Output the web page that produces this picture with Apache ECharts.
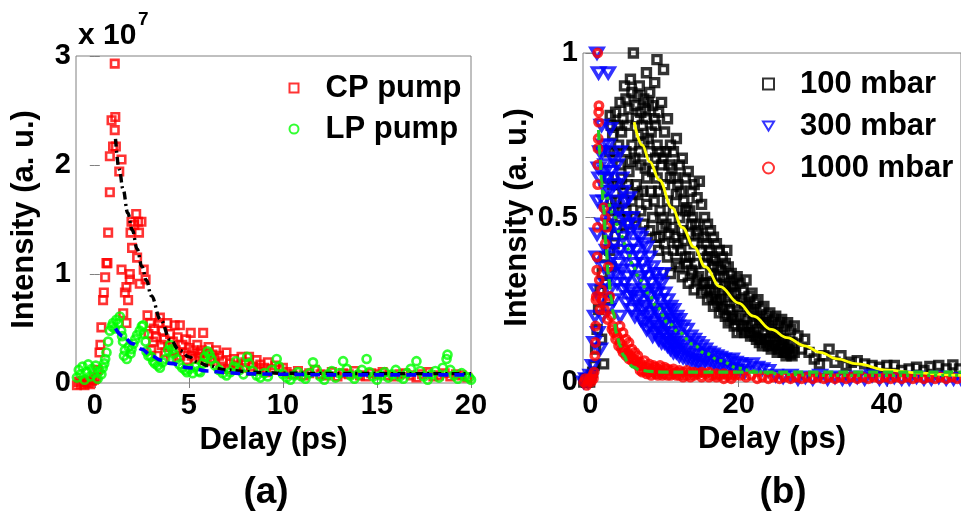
<!DOCTYPE html>
<html><head><meta charset="utf-8">
<script src="https://cdn.jsdelivr.net/npm/echarts@6/dist/echarts.min.js"></script>
<style>html,body{margin:0;padding:0;background:#fff}#c{width:961px;height:512px}</style>
</head><body><div id="c"></div><script>
// ---------------- Panel (a): intensity in units of 1e7 a.u. ----------------
const aTicksX = [0, 5, 10, 15, 20];
const aTicksY = [0, 1, 2, 3];
const cpPump = [
[-0.95,-0.02],[-0.85,0.01],[-0.75,-0.01],[-0.65,0.02],[-0.55,-0.02],[-0.45,0.01],[-0.35,0.0],[-0.25,-0.01],[-0.15,0.02],[-0.05,0.03],
[0.05,0.05],[0.15,0.12],[0.25,0.28],[0.30,0.35],[0.35,0.51],[0.44,0.76],[0.48,0.83],[0.55,0.97],[0.62,1.10],[0.67,1.10],[0.71,1.38],
[0.80,1.75],[0.80,2.08],[0.89,2.41],[0.97,2.17],[1.06,2.93],[1.06,2.32],[1.09,2.44],[1.12,2.17],[1.30,1.94],[1.42,2.05],[1.42,1.04],
[1.51,0.64],[1.60,0.83],[1.68,0.88],[1.68,0.55],[1.77,0.76],[1.86,0.95],[1.86,1.00],[1.90,1.38],[1.95,1.48],[1.98,1.24],[2.10,1.45],
[2.20,1.55],[2.25,1.15],[2.30,1.48],[2.35,1.38],[2.39,0.91],[2.48,1.48],[2.60,1.04],[2.70,0.95],
[2.80,0.62],[2.85,0.45],[2.95,0.55],[3.00,0.30],[3.10,0.38],[3.15,0.50],[3.25,0.42],[3.30,0.25],[3.40,0.55],[3.46,0.60],[3.55,0.35],
[3.60,0.48],[3.70,0.40],[3.75,0.28],[3.85,0.55],[3.90,0.33],[4.00,0.45],[4.05,0.22],[4.15,0.38],[4.25,0.53],[4.30,0.30],[4.40,0.42],
[4.52,0.53],[4.55,0.25],[4.65,0.35],[4.75,0.28],[4.85,0.40],[4.90,0.21],[5.00,0.32],[5.10,0.46],[5.15,0.25],[5.25,0.30],[5.35,0.22],
[5.45,0.35],[5.50,0.27],[5.60,0.24],[5.70,0.30],[5.76,0.46],[5.85,0.21],[5.95,0.28],[6.05,0.33],[6.15,0.20],[6.25,0.26],[6.35,0.23],[6.45,0.30],
[6.6,0.25],[6.8,0.20],[7.0,0.28],[7.2,0.18],[7.4,0.22],[7.6,0.16],[7.8,0.24],[8.0,0.19],[8.2,0.24],[8.4,0.15],[8.6,0.21],[8.8,0.17],
[9.0,0.14],[9.2,0.19],[9.4,0.13],[9.6,0.16],[9.8,0.12],[10.0,0.14],
[6.7,0.15],[7.1,0.13],[7.5,0.12],[7.9,0.14],[8.3,0.11],[8.7,0.12],[9.1,0.10],
[10.2,0.10],[10.5,0.08],[10.8,0.11],[11.1,0.07],[11.4,0.09],[11.7,0.12],[12.0,0.08],[12.3,0.07],[12.6,0.10],[12.9,0.06],[13.2,0.09],
[13.5,0.08],[13.8,0.11],[14.1,0.07],[14.4,0.06],[14.7,0.09],[15.0,0.08],[15.3,0.10],[15.6,0.07],[15.9,0.06],[16.2,0.08],[16.5,0.09],
[16.8,0.07],[17.1,0.05],[17.4,0.08],[17.7,0.10],[18.0,0.06],[18.3,0.07],[18.6,0.09],[18.9,0.06],[19.2,0.08],[19.5,0.07],[19.8,0.05]
];
const lpPump = [
[-0.95,0.05],[-0.85,0.12],[-0.75,0.08],[-0.65,0.15],[-0.55,0.03],[-0.45,0.10],[-0.35,0.17],[-0.25,0.06],[-0.15,0.13],[-0.05,0.09],
[0.05,0.16],[0.15,0.04],[0.25,0.11],[0.35,0.08],[0.42,0.14],[0.50,0.18],
[0.55,0.22],[0.62,0.28],[0.71,0.38],[0.80,0.48],[0.90,0.52],[0.97,0.55],[1.05,0.50],[1.15,0.58],[1.25,0.55],[1.33,0.61],[1.40,0.48],[1.45,0.43],[1.50,0.38],
[1.55,0.25],[1.60,0.30],[1.70,0.22],[1.80,0.33],[1.90,0.27],[1.95,0.31],[2.05,0.36],[2.15,0.40],[2.25,0.44],[2.39,0.48],[2.50,0.52],
[2.57,0.53],[2.62,0.45],[2.70,0.38],[2.75,0.29],[2.85,0.25],[3.00,0.24],[3.10,0.20],
[3.20,0.18],[3.35,0.16],[3.46,0.14],[3.60,0.19],[3.75,0.22],[3.90,0.30],[4.00,0.35],[4.10,0.31],[4.20,0.27],[4.35,0.22],[4.50,0.17],
[4.65,0.14],[4.80,0.12],[4.90,0.10],[5.05,0.13],[5.20,0.09],[5.35,0.15],[5.50,0.11],[5.60,0.10],[5.75,0.18],[5.85,0.24],[6.00,0.29],
[6.10,0.26],[6.20,0.22],
[6.4,0.16],[6.6,0.12],[6.8,0.09],[7.0,0.07],[7.2,0.10],[7.4,0.15],[7.5,0.20],[7.7,0.12],[7.9,0.08],[8.1,0.24],[8.2,0.18],[8.4,0.11],
[8.6,0.07],[8.8,0.05],[9.0,0.09],[9.2,0.06],[9.4,0.12],[9.67,0.22],[9.8,0.15],[10.0,0.08],[10.2,0.05],[10.4,0.03],[10.6,0.07],[10.8,0.10],
[11.0,0.06],[11.2,0.04],[11.4,0.09],[11.6,0.19],[11.8,0.12],[12.0,0.06],[12.2,0.03],[12.4,0.08],[12.6,0.11],[12.8,0.05],[13.0,0.09],
[13.2,0.20],[13.4,0.13],[13.6,0.07],[13.8,0.04],[14.0,0.08],[14.2,0.12],[14.45,0.22],[14.6,0.10],[14.8,0.06],[15.0,0.03],[15.2,0.07],
[15.4,0.10],[15.6,0.05],[15.8,0.08],[16.0,0.12],[16.2,0.06],[16.4,0.04],[16.6,0.09],[16.8,0.13],[17.1,0.20],[17.3,0.11],[17.5,0.06],
[17.7,0.03],[17.9,0.08],[18.1,0.11],[18.3,0.05],[18.5,0.14],[18.7,0.22],[18.75,0.26],[18.9,0.12],[19.1,0.07],[19.3,0.04],[19.5,0.09],
[19.7,0.06],[19.9,0.05],[20.0,0.03]
];
const cpFit = [[1.1,2.24],[1.3,1.96],[1.5,1.78],[1.75,1.56],[2.0,1.40],[2.25,1.23],[2.5,1.07],[2.75,0.94],[3.0,0.80],[3.5,0.58],[4.0,0.40],
[4.5,0.30],[5.0,0.24],[5.5,0.19],[6.0,0.16],[7.0,0.12],[8.0,0.105],[9.0,0.095],[10.0,0.09],[12.0,0.088],[14.0,0.087],[16.0,0.086],[18.0,0.086],[20.0,0.086]];
const lpFit = [[1.1,0.50],[1.5,0.43],[2.0,0.36],[2.5,0.31],[3.0,0.25],[3.5,0.21],[4.0,0.18],[5.0,0.14],[6.0,0.11],[7.0,0.095],[8.0,0.085],
[10.0,0.08],[12.0,0.075],[15.0,0.075],[20.0,0.075]];

// ---------------- Panel (b): normalized intensity ----------------
const bTicksX = [0, 20, 40];
const bTicksY = [0, 0.5, 1];
// rows: [delay, one or more intensities read at that delay]
const rows100 = [
[-0.9,0.0],[-0.7,0.01],[-0.5,0.0],[-0.3,0.01],[-0.1,0.0],[0.1,0.02],[0.3,0.03],[0.5,0.05],[0.7,0.10],[0.9,0.16],[1.1,0.22],[1.3,0.28],
[1.5,0.13],[1.6,0.33],[1.78,0.055],[1.9,0.38],[2.1,0.30],[2.3,0.45],
[2.4,0.62,0.48,0.25],[2.67,0.81],[2.8,0.78,0.55,0.35],[3.2,0.70,0.52,0.42],[3.6,0.78,0.60,0.47],[4.0,0.85,0.66,0.50],[4.4,0.80,0.58,0.45],
[4.8,0.86,0.70,0.52],[5.2,0.83,0.64,0.48],[5.6,0.88,0.72,0.55],[5.8,1.00],[6.0,0.84,0.68,0.50],[6.4,0.87,0.75,0.57],[6.8,0.82,0.66,0.52],
[7.2,0.86,0.73,0.48],[7.56,0.94],[7.6,0.80,0.62,0.54],[8.0,0.88,0.70,0.46],[8.4,0.84,0.64,0.50],[8.67,0.91],[8.8,0.78,0.68,0.44],
[8.98,0.98],[9.2,0.82,0.58,0.40],[9.3,0.44],[9.6,0.85,0.66,0.47],[9.87,0.95],[10.0,0.76,0.60,0.42],[10.4,0.80,0.55,0.38],[10.8,0.72,0.62,0.33],
[11.2,0.70,0.52,0.40],[11.6,0.74,0.57,0.36],[12.0,0.66,0.50,0.35],[12.4,0.68,0.46,0.32],[12.8,0.62,0.52,0.38],[13.2,0.64,0.45,0.30],
[13.6,0.58,0.48,0.34],[14.0,0.60,0.42,0.28],[14.4,0.56,0.46,0.31],[14.7,0.61],[15.0,0.54,0.40,0.27],[15.4,0.50,0.36,0.30],[15.8,0.48,0.38,0.25],
[16.2,0.46,0.33,0.28],[16.6,0.44,0.35,0.23],[17.0,0.42,0.30,0.25],[17.4,0.40,0.32,0.21],[17.8,0.38,0.28,0.23],[18.2,0.36,0.29,0.20],
[18.4,0.40],[18.6,0.35,0.26,0.18],[19.0,0.33,0.27,0.19],[19.4,0.31,0.24,0.17],[19.8,0.32,0.23,0.15],[20.2,0.30,0.20],[20.6,0.28,0.17],
[21.0,0.31,0.19],[21.4,0.26,0.15],[21.8,0.27,0.18],[22.2,0.24,0.14],[22.6,0.25,0.16],[23.0,0.22,0.13],[23.4,0.23,0.15],[23.8,0.20,0.12],
[24.2,0.21,0.13],[24.6,0.19,0.11],[25.0,0.20,0.12],[25.4,0.18,0.10],[25.8,0.19,0.11],[26.2,0.17,0.09],[26.6,0.18,0.10],[27.0,0.16,0.085],
[27.5,0.17,0.09],[28.0,0.14],[28.5,0.10],[28.9,0.13],[29.5,0.09],[30.2,0.07],[30.9,0.055],[31.5,0.08],[32.2,0.10],[33.0,0.06],[33.8,0.08],
[34.5,0.05],[35.2,0.06],[36.0,0.065],[37.0,0.055],[38.0,0.05],[39.0,0.045],[40.0,0.05],[41.0,0.05],[42.0,0.035],[43.0,0.04],[44.0,0.045],
[45.0,0.035],[45.8,0.047],[47.0,0.05],[48.0,0.04],[48.9,0.052],[49.8,0.04],
[2.6,0.70,0.40],[3.0,0.75,0.60],[3.4,0.82,0.55],[3.8,0.72,0.52],[4.2,0.76,0.62],[4.6,0.90,0.55],[5.0,0.78,0.60],[5.4,0.92,0.67],
[6.2,0.80,0.60],[6.6,0.90,0.70],[7.0,0.78,0.58],[7.4,0.83,0.65],[7.8,0.85,0.74],[8.2,0.76,0.58],[8.6,0.80,0.55],[9.0,0.72,0.62],
[9.4,0.70,0.52],[9.8,0.68,0.50],[10.2,0.70,0.48],[10.6,0.66,0.45],[11.0,0.65,0.47],[11.4,0.62,0.44],[11.8,0.60,0.42],[12.2,0.58,0.40],
[12.6,0.55,0.43],[13.0,0.53,0.36],[13.4,0.52,0.38],[13.8,0.50,0.33],[14.2,0.48,0.36],[14.6,0.45,0.32],[15.2,0.44,0.30],[15.6,0.42,0.28],
[16.0,0.40,0.30],[16.4,0.38,0.26],[16.8,0.37,0.27],[17.2,0.35,0.24],[17.6,0.34,0.25],[18.0,0.32,0.22],[18.8,0.30,0.22],[19.2,0.29,0.20],
[19.6,0.27,0.19],[20.4,0.25,0.16],[20.8,0.24,0.15],[21.2,0.23,0.17],[21.6,0.22,0.14],[22.0,0.21,0.15],[22.4,0.20,0.13],[22.8,0.19,0.12],
[23.2,0.18,0.11],[23.6,0.18,0.13],[24.0,0.17,0.11],[24.4,0.16,0.10],[24.8,0.15,0.11],[25.2,0.15,0.09],[25.6,0.14,0.10],[26.0,0.13,0.09],
[26.4,0.13,0.08],[26.8,0.12,0.09],[27.2,0.12,0.08]
];
const rows300 = [
[-0.9,0.0],[-0.6,0.01],[-0.3,0.0],[0.0,0.02],[0.3,0.05],[0.5,0.12],[0.6,0.20],[0.7,0.28],[0.8,0.38],[0.89,1.00],[0.9,0.45],[1.0,0.55,0.15],
[1.1,0.94,0.65],[1.2,0.62],[1.3,0.70,0.10],[1.4,0.25],[1.5,0.78],[2.4,0.94],[2.67,0.77],[1.8,0.72],[2.0,0.64],[2.2,0.58],
[1.6,0.70,0.48,0.20],[2.0,0.66,0.52,0.30],[2.4,0.72,0.45,0.22],[2.8,0.64,0.50,0.33],[3.2,0.60,0.42,0.25],[3.6,0.66,0.47,0.30],
[4.0,0.70,0.40,0.20],[4.4,0.58,0.44,0.28],[4.8,0.55,0.38,0.24],[5.2,0.56,0.40,0.26],[5.6,0.50,0.34,0.22],[6.0,0.48,0.36,0.20],
[6.4,0.45,0.31,0.23],[6.8,0.44,0.32,0.19],[7.2,0.42,0.28,0.18],[7.6,0.41,0.27,0.16],[8.0,0.38,0.26,0.17],[8.4,0.35,0.24,0.14],
[8.8,0.33,0.22,0.15],[9.2,0.31,0.21,0.13],[9.6,0.30,0.19,0.12],[10.0,0.27,0.18,0.12],[10.4,0.25,0.17,0.11],[10.8,0.23,0.15,0.10],
[11.2,0.22,0.14,0.09],[11.6,0.20,0.13,0.09],[12.0,0.19,0.12,0.08],[12.5,0.17,0.11,0.075],[13.0,0.16,0.10,0.07],[13.5,0.14,0.09,0.065],
[14.0,0.13,0.085,0.06],[14.5,0.12,0.08,0.055],[15.0,0.11,0.07,0.05],[15.5,0.10,0.065],[16.0,0.09,0.06],[16.5,0.085,0.055],[17.0,0.08,0.05],
[17.5,0.075,0.045],[18.0,0.07,0.045],[18.5,0.065,0.04],[19.1,0.07,0.04],[19.6,0.06,0.035],[20.2,0.055,0.035],[20.8,0.05,0.03],
[21.8,0.055],[22.5,0.045],[23.2,0.04],[24.0,0.035],[25,0.02],[26,0.015],[27,0.02],[28,0.01],[29,0.015],[30,0.01],[31,0.02],[32,0.01],
[33,0.015],[34,0.01],[35,0.01],[36,0.015],[37,0.01],[38,0.02],[39,0.01],[40,0.01],[41,0.015],[42,0.01],[43,0.01],[44,0.015],[45,0.01],
[46,0.01],[47,0.015],[48,0.01],[49,0.01],[50,0.01],
[1.8,0.55,0.35],[2.2,0.62,0.40],[2.6,0.58,0.28],[3.0,0.68,0.38],[3.4,0.55,0.33],[3.8,0.52,0.36],[4.2,0.62,0.34],[4.6,0.50,0.30],
[5.0,0.48,0.32],[5.4,0.46,0.28],[5.8,0.42,0.27],[6.2,0.40,0.25],[6.6,0.38,0.26],[7.0,0.36,0.22],[7.4,0.34,0.23],[7.8,0.32,0.20],
[8.2,0.30,0.21],[8.6,0.28,0.18],[9.0,0.27,0.17],[9.4,0.25,0.16],[9.8,0.33,0.15],[10.2,0.22,0.14],[10.6,0.21,0.13],[11.0,0.19,0.12],
[11.4,0.18,0.11],[11.8,0.17,0.10]
];
const rows1000 = [
[-0.9,0.0],[-0.7,0.01],[-0.5,-0.01],[-0.3,0.0],[-0.1,0.01],[0.1,0.0],[0.3,0.02],[0.4,0.01],
[0.5,0.03],[0.6,0.08],[0.67,0.12],[0.7,0.17],[0.75,0.25],[0.8,0.26],[0.85,0.34],[0.9,0.38],[0.95,0.47],[0.98,0.60],[1.0,0.66],[1.02,0.71],
[1.05,0.74],[0.98,1.00],[1.1,0.79],[1.12,0.82],[1.15,0.84],[1.2,0.31],[1.3,0.22],[1.5,0.28],[1.6,0.25],[1.8,0.53],[1.9,0.22],[2.0,0.50,0.42],
[2.2,0.47],[2.3,0.19],[2.4,0.35],[2.6,0.26],[2.8,0.20],[2.9,0.16],[3.0,0.17],[3.2,0.15],[3.4,0.13],[3.6,0.14],[3.8,0.11],[4.0,0.12,0.17],
[4.2,0.10],[4.4,0.09,0.15],[4.6,0.10],[4.8,0.08,0.13],[5.0,0.09],[5.2,0.07,0.12],[5.4,0.08],[5.6,0.065,0.10],[5.8,0.07],[6.0,0.06,0.09],
[6.2,0.065],[6.4,0.05,0.08],[6.7,0.06,0.035],[7.0,0.05,0.03],[7.3,0.065,0.035],[7.6,0.045,0.025],[7.9,0.055,0.03],[8.2,0.04,0.02],
[8.5,0.05,0.03],[8.8,0.045,0.025],[9.1,0.04,0.02],[9.4,0.05,0.03],[9.7,0.035,0.02],[10.0,0.045,0.025],[10.4,0.04,0.02],[10.8,0.035,0.02],
[11.2,0.04,0.025],[11.6,0.03,0.02],[12.0,0.035,0.02],[12.5,0.03,0.015],[13.0,0.035,0.02],[13.5,0.03,0.015],[14.0,0.03,0.02],[14.5,0.025],
[15.0,0.03,0.015],[15.5,0.025],[16.0,0.03,0.015],[16.5,0.02],[17.0,0.025,0.015],[17.5,0.02],[18.0,0.025,0.01],[18.5,0.02],[19.0,0.02,0.01],
[19.5,0.02],[20.2,0.02],[21.0,0.015],[21.7,0.02],[22.5,0.01],[23.2,0.015],[24.0,0.01],[24.7,0.015],[25.5,0.01],[26.2,0.015],[27.0,0.01],
[27.7,0.015],[28.5,0.01],[29.2,0.015],[30.0,0.01],[30.7,0.015],[31.5,0.01],[32.2,0.015],[33.0,0.01],[33.7,0.015],[34.5,0.01],[35.2,0.015],
[36.0,0.01],[36.7,0.015],[37.5,0.01],[38.2,0.015],[39.0,0.01],[39.7,0.015],[40.5,0.01],[41.2,0.015],[42.0,0.01],[42.7,0.015],[43.5,0.01],
[44.2,0.015],[45.0,0.01],[45.7,0.015],[46.5,0.01],[47.2,0.015],[48.0,0.01],[48.7,0.015],[49.5,0.01]
];
const fit100 = [[5.9,0.79],[7.0,0.72],[8.0,0.67],[9.3,0.614],[11.0,0.53],[12.4,0.47],[14.0,0.41],[15.5,0.35],[17.5,0.29],[20.0,0.24],
[22.0,0.20],[24.4,0.16],[26.5,0.135],[28.9,0.11],[31.0,0.09],[33.3,0.07],[36.0,0.055],[40.0,0.036],[44.0,0.028],[48.9,0.021],[50.0,0.02]];
const fit300 = [[1.5,0.60],[2.0,0.57],[3.1,0.51],[4.0,0.45],[4.9,0.41],[5.8,0.35],[6.67,0.31],[7.8,0.27],[8.9,0.23],[10.5,0.18],[12.0,0.15],
[13.8,0.115],[15.5,0.087],[17.5,0.065],[20.0,0.042],[22.0,0.033],[24.4,0.026],[28.0,0.022],[32.0,0.02],[40.0,0.02],[50.0,0.02]];
const fit1000 = [[1.1,0.766],[1.3,0.69],[1.5,0.61],[1.78,0.53],[2.1,0.42],[2.4,0.33],[2.75,0.26],[3.1,0.21],[3.5,0.15],[4.0,0.11],[4.5,0.08],
[5.1,0.056],[5.8,0.045],[6.7,0.036],[8.0,0.032],[10.0,0.03],[15.0,0.03],[20.0,0.03],[30.0,0.03],[40.0,0.03],[50.0,0.03]];

function toPoints(rows){const out=[];rows.forEach(r=>{for(let i=1;i<r.length;i++)out.push([r[0],r[i]]);});return out;}

const FONT = '"Liberation Sans", Arial, Helvetica, sans-serif';
const AX = '#808080';
const DOWN_TRI = 'path://M0,0L12,0L6,10Z';
const txt = (size) => ({fontSize:size, fontWeight:'bold', fontFamily:FONT, color:'#000'});

function xAxes(grid, min, max, ticks, nameGap){
  return [
    {gridIndex:grid, type:'value', min:min, max:max, position:'bottom',
     axisLine:{show:false}, splitLine:{show:false},
     axisTick:{inside:true, length:5, lineStyle:{color:AX}, customValues:ticks},
     axisLabel:Object.assign({customValues:ticks, margin:8}, txt(29)),
     name:'Delay (ps)', nameLocation:'middle', nameGap:nameGap, nameTextStyle:txt(31)},
    {gridIndex:grid, type:'value', min:min, max:max, position:'top',
     axisLine:{show:false}, splitLine:{show:false},
     axisTick:{inside:true, length:5, lineStyle:{color:AX}, customValues:ticks},
     axisLabel:{show:false}}
  ];
}
function yAxes(grid, min, max, ticks, nameGap){
  return [
    {gridIndex:grid, type:'value', min:min, max:max, position:'left',
     axisLine:{show:false}, splitLine:{show:false},
     axisTick:{inside:true, length:5, lineStyle:{color:AX}, customValues:ticks},
     axisLabel:Object.assign({customValues:ticks, margin:5}, txt(29)),
     name:'Intensity (a. u.)', nameLocation:'middle', nameGap:nameGap, nameTextStyle:txt(31)},
    {gridIndex:grid, type:'value', min:min, max:max, position:'right',
     axisLine:{show:false}, splitLine:{show:false},
     axisTick:{inside:true, length:5, lineStyle:{color:AX}, customValues:ticks},
     axisLabel:{show:false}}
  ];
}

function hollow(name, xi, yi, data, symbol, size, color, bw){
  return {name:name, type:'scatter', xAxisIndex:xi, yAxisIndex:yi, data:data, clip:false,
    symbol:symbol, symbolSize:size,
    itemStyle:{color:'rgba(0,0,0,0)', borderColor:color, borderWidth:bw},
    emphasis:{disabled:true}, animation:false};
}
function fitLine(xi, yi, data, color, width, dash){
  return {type:'line', xAxisIndex:xi, yAxisIndex:yi, data:data, showSymbol:false, symbol:'none',
    smooth:0.4, smoothMonotone:'x', clip:false, silent:true,
    lineStyle:{color:color, width:width, type:dash}, animation:false, z:5};
}

const option = {
  backgroundColor:'#fff',
  animation:false,
  grid:[
    {left:76, top:56, width:395, height:327, show:true, borderColor:AX, borderWidth:1, backgroundColor:'transparent'},
    {left:583, top:53, width:382, height:329, show:true, borderColor:AX, borderWidth:1, backgroundColor:'transparent'}
  ],
  xAxis:[].concat(xAxes(0,-1,20,aTicksX,41), xAxes(1,-1,50,bTicksX,41)),
  yAxis:[].concat(yAxes(0,0,3,aTicksY,36), yAxes(1,0,1,bTicksY,50)),
  legend:[
    {data:['CP pump','LP pump'], orient:'vertical', left:283.5, top:67, itemWidth:9, itemHeight:9, itemGap:9,
     selectedMode:false, textStyle:Object.assign({lineHeight:32, padding:[0,0,0,22]}, txt(31))},
    {data:['100 mbar','300 mbar','1000 mbar'], orient:'vertical', left:757, top:63, itemWidth:11, itemHeight:11, itemGap:10,
     selectedMode:false, textStyle:Object.assign({lineHeight:32, padding:[0,0,0,21]}, txt(31))}
  ],
  graphic:[
    {type:'text', x:78, y:36, style:{text:'x 10', font:'bold 30px '+FONT, fill:'#000', verticalAlign:'middle'}},
    {type:'text', x:138, y:20, style:{text:'7', font:'bold 19px '+FONT, fill:'#000', verticalAlign:'middle'}},
    {type:'text', x:266, y:493, style:{text:'(a)', font:'bold 37px '+FONT, fill:'#000', align:'center', verticalAlign:'middle'}},
    {type:'text', x:783, y:493, style:{text:'(b)', font:'bold 37px '+FONT, fill:'#000', align:'center', verticalAlign:'middle'}}
  ],
  series:[
    hollow('CP pump',0,0,cpPump,'rect',7.5,'#ff0000',2.6),
    hollow('LP pump',0,0,lpPump,'circle',8,'#00ff00',2.7),
    fitLine(0,0,cpFit,'#000000',3.4,[8,4,2,4]),
    fitLine(0,0,lpFit,'#0000ff',3.6,[10,6]),
    hollow('100 mbar',2,2,toPoints(rows100),'rect',8,'#000000',3.4),
    hollow('300 mbar',2,2,toPoints(rows300),DOWN_TRI,[12,10],'#0000ff',3.4),
    hollow('1000 mbar',2,2,toPoints(rows1000),'circle',7.5,'#ff0000',3.4),
    fitLine(2,2,fit100,'#ffff00',2.8,'solid'),
    fitLine(2,2,fit300,'#22cc22',3.2,[3,4]),
    fitLine(2,2,fit1000,'#22cc22',3.2,[10,5])
  ]
};
const chart = echarts.init(document.getElementById('c'), null, {renderer:'canvas'});
chart.setOption(option);
</script></body></html>
